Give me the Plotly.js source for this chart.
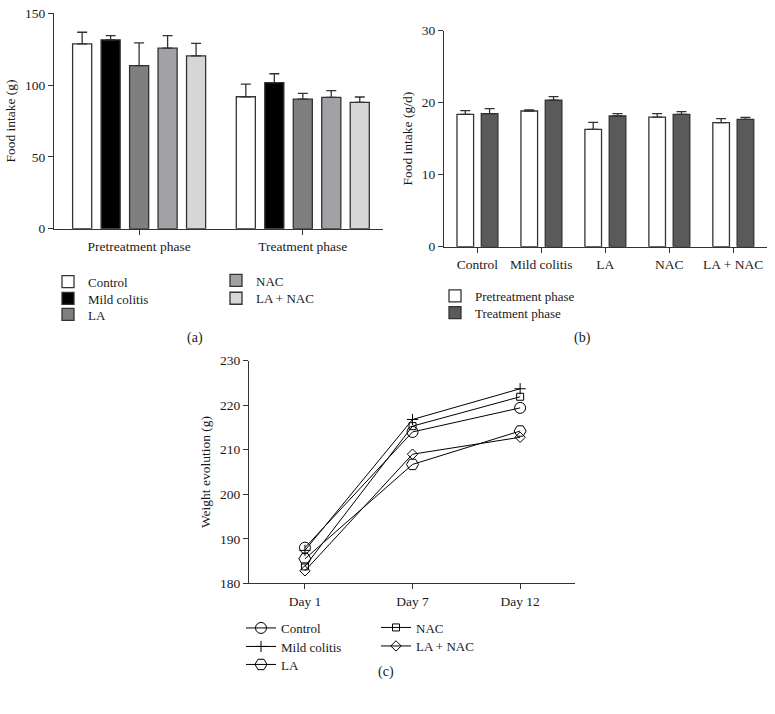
<!DOCTYPE html>
<html>
<head>
<meta charset="utf-8">
<script src="https://cdn.plot.ly/plotly-3.0.1.min.js"></script>
<style>html,body{margin:0;padding:0;background:#fff;}#chart{width:775px;height:714px;}</style>
</head>
<body>
<div id="chart"></div>
<script>
// ---------- Panel (a): total food intake ----------
const aPhases = ['Pretreatment phase', 'Treatment phase'];
const aControl = [128.7, 91.9];
const aControlErr = [8.1, 8.8];
const aMild = [131.5, 101.7];
const aMildErr = [3.0, 6.2];
const aLA = [113.5, 90.3];
const aLAErr = [15.9, 3.9];
const aNAC = [125.7, 91.5];
const aNACErr = [8.8, 4.6];
const aLANAC = [120.4, 88.0];
const aLANACErr = [8.6, 3.7];
const aTicks = [0, 50, 100, 150];

// ---------- Panel (b): daily food intake ----------
const bGroups = ['Control', 'Mild colitis', 'LA', 'NAC', 'LA + NAC'];
const bPre = [18.39, 18.85, 16.30, 18.01, 17.22];
const bPreErr = [0.50, 0.14, 0.97, 0.46, 0.56];
const bTreat = [18.47, 20.37, 18.15, 18.39, 17.69];
const bTreatErr = [0.70, 0.46, 0.32, 0.36, 0.28];
const bTicks = [0, 10, 20, 30];

// ---------- Panel (c): weight evolution ----------
const cDays = ['Day 1', 'Day 7', 'Day 12'];
const cControl = [188.0, 214.0, 219.4];
const cMild = [187.4, 216.8, 223.7];
const cLA = [185.5, 206.7, 214.2];
const cNAC = [183.8, 215.3, 221.9];
const cLANAC = [182.8, 209.0, 212.8];
const cTicks = [180, 190, 200, 210, 220, 230];

const FONT = 'Liberation Serif, Times New Roman, serif';
const AX = '#333333';
const TXT = '#1a1a1a';
const W = 775, H = 714;

function errBar(arr) {
  return {type: 'data', symmetric: false, array: arr, arrayminus: arr.map(() => 0),
          color: AX, thickness: 1.3, width: 5};
}
function barTrace(name, y, err, color, legendId) {
  return {type: 'bar', name: name, x: aPhases, y: y, xaxis: 'x', yaxis: 'y',
          marker: {color: color, line: {color: AX, width: 1.3}},
          error_y: errBar(err), legend: legendId};
}

const traces = [
  barTrace('Control', aControl, aControlErr, '#ffffff', 'legend'),
  barTrace('Mild colitis', aMild, aMildErr, '#000000', 'legend2'),
  barTrace('LA', aLA, aLAErr, '#7f7f7f', 'legend3'),
  barTrace('NAC', aNAC, aNACErr, '#a2a2a6', 'legend4'),
  barTrace('LA + NAC', aLANAC, aLANACErr, '#d6d6d6', 'legend5'),
  {type: 'bar', name: 'Pretreatment phase', x: bGroups, y: bPre, xaxis: 'x2', yaxis: 'y2',
   width: 0.26, offset: -0.317,
   marker: {color: '#ffffff', line: {color: AX, width: 1.3}}, error_y: errBar(bPreErr), legend: 'legend6'},
  {type: 'bar', name: 'Treatment phase', x: bGroups, y: bTreat, xaxis: 'x2', yaxis: 'y2',
   width: 0.26, offset: 0.063,
   marker: {color: '#5a5a5a', line: {color: AX, width: 1.3}}, error_y: errBar(bTreatErr), legend: 'legend7'}
];

function lineTrace(name, y, symbol, size, legendId) {
  return {type: 'scatter', mode: 'lines+markers', name: name, x: cDays, y: y, xaxis: 'x3', yaxis: 'y3',
          line: {color: '#000', width: 1},
          marker: {symbol: symbol, size: size, color: '#000', line: {color: '#000', width: 1}},
          legend: legendId};
}
traces.push(
  lineTrace('Control', cControl, 'circle-open', 11, 'legend8'),
  lineTrace('Mild colitis', cMild, 'cross-thin-open', 8, 'legend9'),
  lineTrace('LA', cLA, 'hexagon2-open', 12, 'legend10'),
  lineTrace('NAC', cNAC, 'square-open', 7, 'legend11'),
  lineTrace('LA + NAC', cLANAC, 'diamond-open', 8, 'legend12')
);

function legendAt(textX, rowY) {
  return {x: (textX - 40) / W, y: 1 - rowY / H, xanchor: 'left', yanchor: 'middle',
          bgcolor: 'rgba(0,0,0,0)', borderwidth: 0, itemwidth: 30,
          font: {family: FONT, size: 13, color: TXT}};
}

function yAxis(domain, range, ticks, title, anchor) {
  return {domain: domain, range: range, tickvals: ticks, anchor: anchor,
          showgrid: false, zeroline: false, showline: true, linecolor: AX, linewidth: 1,
          ticks: 'outside', ticklen: 5, tickcolor: AX, tickwidth: 1,
          tickfont: {family: FONT, size: 13.5, color: TXT},
          title: {text: title, font: {family: FONT, size: 13.5, color: TXT}, standoff: 6},
          fixedrange: true};
}
function xAxis(domain, range, anchor) {
  return {domain: domain, range: range, anchor: anchor, type: 'category',
          showgrid: false, zeroline: false, showline: true, linecolor: AX, linewidth: 1,
          ticks: 'outside', ticklen: 5, tickcolor: AX, tickwidth: 1,
          tickfont: {family: FONT, size: 13.5, color: TXT}, fixedrange: true};
}
function caption(text, px, py) {
  return {text: text, x: px / W, y: 1 - py / H, xref: 'paper', yref: 'paper', showarrow: false,
          xanchor: 'center', yanchor: 'middle', font: {family: FONT, size: 14, color: TXT}};
}

const layout = {
  width: W, height: H,
  margin: {l: 0, r: 0, t: 0, b: 0},
  paper_bgcolor: '#fff', plot_bgcolor: '#fff',
  barmode: 'group', bargap: 0.13, bargroupgap: 0.33,
  showlegend: true,
  xaxis: xAxis([54 / W, 383 / W], [-0.52, 1.49], 'y'),
  yaxis: yAxis([1 - 228.7 / H, 1 - 13.3 / H], [0, 150], aTicks, 'Food intake (g)', 'x'),
  xaxis2: xAxis([444 / W, 767 / W], [-0.52, 4.53], 'y2'),
  yaxis2: yAxis([1 - 246.7 / H, 1 - 30.7 / H], [0, 30], bTicks, 'Food intake (g/d)', 'x2'),
  xaxis3: xAxis([249 / W, 575 / W], [-0.52, 2.51], 'y3'),
  yaxis3: yAxis([1 - 583.3 / H, 1 - 360.7 / H], [180, 230], cTicks, 'Weight evolution (g)', 'x3'),
  legend: legendAt(88, 281.7),
  legend2: legendAt(88, 298.5),
  legend3: legendAt(88, 314.5),
  legend4: legendAt(256, 280.5),
  legend5: legendAt(256, 298.3),
  legend6: legendAt(475, 296),
  legend7: legendAt(475, 312.7),
  legend8: legendAt(281, 628),
  legend9: legendAt(281, 646.5),
  legend10: legendAt(281, 664.5),
  legend11: legendAt(416, 627.5),
  legend12: legendAt(416, 646),
  annotations: [
    caption('(a)', 195, 338),
    caption('(b)', 582, 338),
    caption('(c)', 386, 672)
  ]
};

Plotly.newPlot('chart', traces, layout, {staticPlot: true, displayModeBar: false});
</script>
</body>
</html>
